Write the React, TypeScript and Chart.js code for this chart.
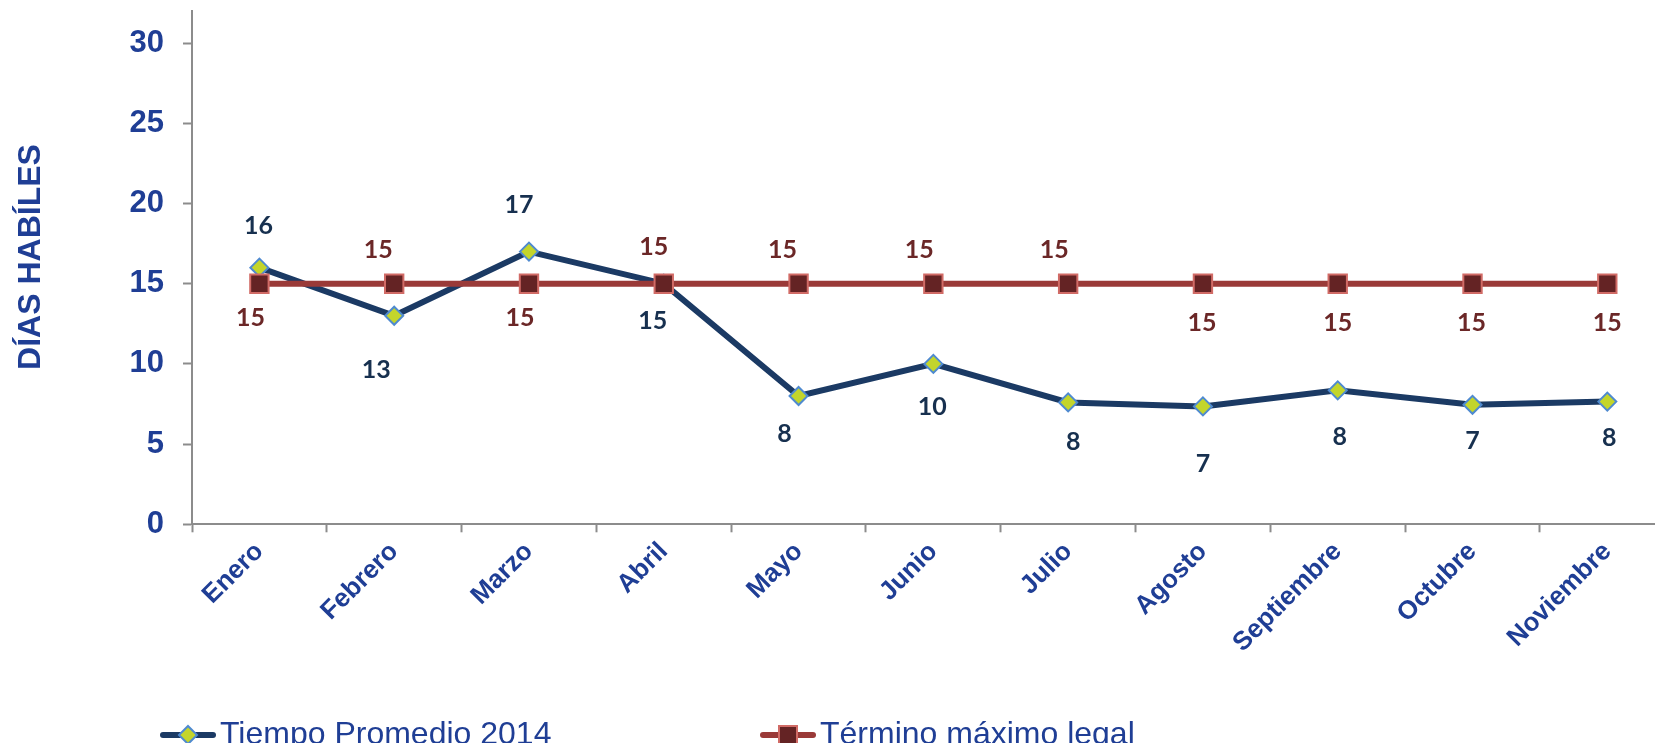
import React, { useEffect, useRef } from 'react';
import { Chart, registerables } from 'chart.js';

Chart.register(...registerables);

// ---- Data ----
const categories = ['Enero', 'Febrero', 'Marzo', 'Abril', 'Mayo', 'Junio', 'Julio', 'Agosto', 'Septiembre', 'Octubre', 'Noviembre'];
const tiempoPromedio = [16.0, 13.0, 17.0, 15.0, 8.0, 10.0, 7.6, 7.35, 8.35, 7.45, 7.65];
const terminoMaximo = [15, 15, 15, 15, 15, 15, 15, 15, 15, 15, 15];
const yTickValues = [0, 5, 10, 15, 20, 25, 30];
const seriesNames = ['Tiempo Promedio 2014', 'Término máximo legal'];
const axisTitle = 'DÍAS HABÍLES';

// ---- Style: per-point label offsets (px from the marker) ----
const tiempoLabelOffsets = [
  [-1, -42], [-18, 54], [-10, -47], [-11, 37], [-14, 38], [-1, 43],
  [5, 40], [0, 58], [2, 47], [0, 36], [2, 36],
];
const terminoLabelOffsets = [
  [-9, 34], [-16, -34], [-9, 34], [-10, -37], [-16, -34], [-14, -34],
  [-14, -34], [-1, 39], [0, 39], [-1, 39], [0, 39],
];

const BLUE = '#1F3E95';
const NAVY = '#1B3A64';
const RED_LINE = '#9A3A38';
const SQ_FILL = '#642324';
const SQ_BORDER = '#D16B66';
const DIA_FILL = '#C3D52B';
const DIA_BORDER = '#4F8AD0';
const GRAY = '#8C8C8C';

const labelStyles = [
  { offsets: tiempoLabelOffsets, color: '#17304F' },
  { offsets: terminoLabelOffsets, color: '#6B2727' },
];

const pointLabelPlugin = {
  id: 'pointLabelPlugin',
  afterDatasetsDraw(chart: any) {
    const ctx = chart.ctx;
    chart.data.datasets.forEach((ds: any, i: number) => {
      const meta = chart.getDatasetMeta(i);
      const st = labelStyles[i];
      meta.data.forEach((pt: any, j: number) => {
        ctx.save();
        ctx.font = 'bold 25px Lato';
        ctx.fillStyle = st.color;
        ctx.textAlign = 'center';
        ctx.textBaseline = 'middle';
        ctx.fillText(String(Math.round(ds.data[j])), pt.x + st.offsets[j][0], pt.y + st.offsets[j][1]);
        ctx.restore();
      });
    });
  },
};

const titlePlugin = {
  id: 'axisTitlePlugin',
  afterDraw(chart: any) {
    const ctx = chart.ctx;
    ctx.save();
    ctx.translate(23, 249);
    ctx.rotate(-Math.PI / 2);
    ctx.font = 'bold 32px "Liberation Sans"';
    ctx.fillStyle = BLUE;
    ctx.textAlign = 'center';
    ctx.textBaseline = 'middle';
    ctx.fillText(axisTitle, 0, 0);
    ctx.restore();
  },
};

function drawDiamond(ctx: CanvasRenderingContext2D, x: number, y: number, r: number) {
  ctx.beginPath();
  ctx.moveTo(x, y - r);
  ctx.lineTo(x + r, y);
  ctx.lineTo(x, y + r);
  ctx.lineTo(x - r, y);
  ctx.closePath();
  ctx.fillStyle = DIA_FILL;
  ctx.fill();
  ctx.lineWidth = 2;
  ctx.strokeStyle = DIA_BORDER;
  ctx.stroke();
}

function drawSquare(ctx: CanvasRenderingContext2D, x: number, y: number, h: number) {
  ctx.beginPath();
  ctx.rect(x - h, y - h, 2 * h, 2 * h);
  ctx.fillStyle = SQ_FILL;
  ctx.fill();
  ctx.lineWidth = 2;
  ctx.strokeStyle = SQ_BORDER;
  ctx.stroke();
}

const legendPlugin = {
  id: 'customLegend',
  afterDraw(chart: any) {
    const ctx: CanvasRenderingContext2D = chart.ctx;
    const y = 727;
    const items = [
      { x0: 152, x1: 208, color: NAVY, marker: 'diamond', textX: 212 },
      { x0: 752, x1: 808, color: RED_LINE, marker: 'square', textX: 812 },
    ];
    items.forEach((it, i) => {
      ctx.save();
      ctx.lineCap = 'round';
      ctx.lineWidth = 6;
      ctx.strokeStyle = it.color;
      ctx.beginPath();
      ctx.moveTo(it.x0 + 3, y);
      ctx.lineTo(it.x1 - 3, y);
      ctx.stroke();
      const cx = (it.x0 + it.x1) / 2;
      if (it.marker === 'diamond') drawDiamond(ctx, cx, y, 9);
      else drawSquare(ctx, cx, y, 9);
      ctx.font = '32px "Liberation Sans"';
      ctx.fillStyle = BLUE;
      ctx.textAlign = 'left';
      ctx.textBaseline = 'middle';
      ctx.fillText(seriesNames[i], it.textX, y);
      ctx.restore();
    });
  },
};

export default function App() {
  const ref = useRef<HTMLCanvasElement>(null);
  useEffect(() => {
    if (!ref.current) return;
    const chart = new Chart(ref.current, {
      type: 'line',
      data: {
        labels: categories,
        datasets: [
          {
            label: seriesNames[0],
            data: tiempoPromedio,
            borderColor: NAVY,
            borderWidth: 6,
            pointStyle: 'rectRot',
            pointRadius: 9,
            pointBackgroundColor: DIA_FILL,
            pointBorderColor: DIA_BORDER,
            pointBorderWidth: 2,
            tension: 0,
            order: 2,
          },
          {
            label: seriesNames[1],
            data: terminoMaximo,
            borderColor: RED_LINE,
            borderWidth: 6,
            pointStyle: 'rect',
            pointRadius: 13,
            pointBackgroundColor: SQ_FILL,
            pointBorderColor: SQ_BORDER,
            pointBorderWidth: 2,
            tension: 0,
            order: 1,
          },
        ],
      },
      options: {
        responsive: false,
        animation: false,
        devicePixelRatio: 1,
        layout: { autoPadding: false, padding: { left: 0, right: 33.3, top: 3, bottom: 68.7 } },
        plugins: {
          legend: { display: false },
          tooltip: { enabled: false },
          title: { display: false },
        },
        scales: {
          x: {
            type: 'category',
            offset: true,
            grid: {
              offset: true,
              drawOnChartArea: false,
              drawTicks: true,
              tickLength: 8,
              tickColor: GRAY,
              tickWidth: 2,
            },
            border: { display: true, color: GRAY, width: 2 },
            ticks: {
              autoSkip: false,
              maxRotation: 45,
              minRotation: 45,
              padding: 4,
              color: BLUE,
              font: { family: 'Liberation Sans', size: 26, weight: 'bold' },
            },
            afterFit: (s: any) => {
              s.height = 150;
              s.paddingLeft = 0;
              s.paddingRight = 0;
            },
          },
          y: {
            type: 'linear',
            min: 0,
            max: 32,
            afterBuildTicks: (s: any) => {
              s.ticks = yTickValues.map((v) => ({ value: v }));
            },
            grid: {
              drawOnChartArea: false,
              drawTicks: true,
              tickLength: 9,
              tickColor: GRAY,
              tickWidth: 2,
            },
            border: { display: true, color: GRAY, width: 2 },
            ticks: {
              padding: 19,
              color: BLUE,
              font: { family: 'Liberation Sans', size: 31, weight: 'bold' },
            },
            afterFit: (s: any) => {
              s.width = 184;
              s.paddingTop = 0;
              s.paddingBottom = 0;
            },
          },
        },
      },
      plugins: [pointLabelPlugin, titlePlugin, legendPlugin],
    } as any);
    return () => chart.destroy();
  }, []);

  return (
    <div style={{ width: 1655, height: 735, overflow: 'hidden', position: 'relative' }}>
      <canvas ref={ref} width={1700} height={735} style={{ display: 'block', width: 1700, height: 735 }} />
    </div>
  );
}
